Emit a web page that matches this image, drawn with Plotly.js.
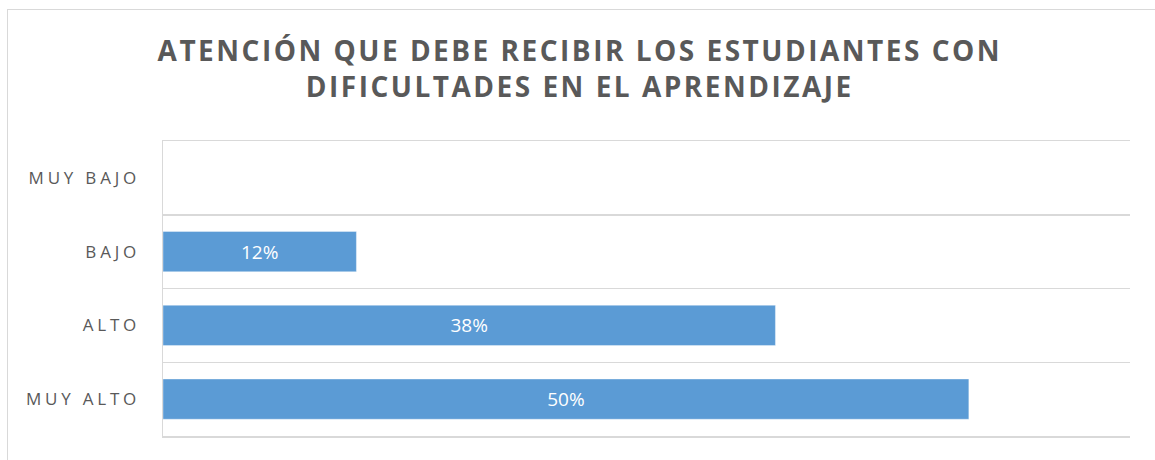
<!DOCTYPE html>
<html>
<head>
<meta charset="utf-8">
<script src="https://cdn.plot.ly/plotly-3.0.1.min.js"></script>
<style>
  html, body { margin: 0; padding: 0; background: #ffffff; }
  #wrap { position: relative; width: 1155px; height: 460px; overflow: hidden; }
  #chart { position: absolute; left: 0; top: 0; width: 1155px; height: 460px; }
  #frame { position: absolute; left: 7px; top: 9px; width: 1200px; height: 500px;
           border-left: 1.5px solid #d9d9d9; border-top: 1.5px solid #d9d9d9; pointer-events: none; }
  .gtitle { letter-spacing: 2.5px; }
  .ytick text { letter-spacing: 3.8px; }
</style>
</head>
<body>
<div id="wrap">
  <div id="chart"></div>
  <div id="frame"></div>
</div>
<script>
const chartTitle = "ATENCIÓN QUE DEBE RECIBIR LOS ESTUDIANTES CON<br>DIFICULTADES EN EL APRENDIZAJE";
const categories = ["MUY ALTO", "ALTO", "BAJO", "MUY BAJO"];
const percentages = [50, 38, 12, 0];

const labels = percentages.map(v => v > 0 ? v + "%" : "");

const trace = {
  type: "bar",
  orientation: "h",
  y: categories,
  x: percentages,
  text: labels,
  textposition: "inside",
  insidetextanchor: "middle",
  textfont: { family: "Open Sans", size: 19, color: "#ffffff" },
  marker: { color: "#5b9bd5", line: { color: "rgba(255,255,255,0.45)", width: 0.8 } },
  hoverinfo: "none",
  cliponaxis: false
};

const layout = {
  width: 1155,
  height: 460,
  margin: { l: 163, r: 25, t: 141, b: 24, pad: 0 },
  paper_bgcolor: "#ffffff",
  plot_bgcolor: "#ffffff",
  showlegend: false,
  bargap: 0.455,
  title: {
    text: chartTitle,
    font: { family: "Open Sans", size: 28, color: "#595959", weight: "bold" },
    x: 0.502, xref: "container", xanchor: "center",
    y: 1 - 61 / 460, yref: "container", yanchor: "top"
  },
  xaxis: {
    range: [0, 60],
    showgrid: false,
    zeroline: false,
    showticklabels: false,
    ticks: "",
    showline: true,
    mirror: true,
    linecolor: "#d9d9d9",
    linewidth: 1.5
  },
  yaxis: {
    type: "category",
    range: [-0.5, 3.5],
    tickson: "boundaries",
    ticks: "",
    showgrid: true,
    gridcolor: "#d9d9d9",
    gridwidth: 1.5,
    zeroline: false,
    showline: true,
    linecolor: "#d9d9d9",
    linewidth: 1.5,
    ticklabelstandoff: 18,
    tickfont: { family: "Open Sans", size: 17, color: "#595959" }
  }
};

Plotly.newPlot("chart", [trace], layout, { displayModeBar: false, staticPlot: true });
</script>
</body>
</html>
